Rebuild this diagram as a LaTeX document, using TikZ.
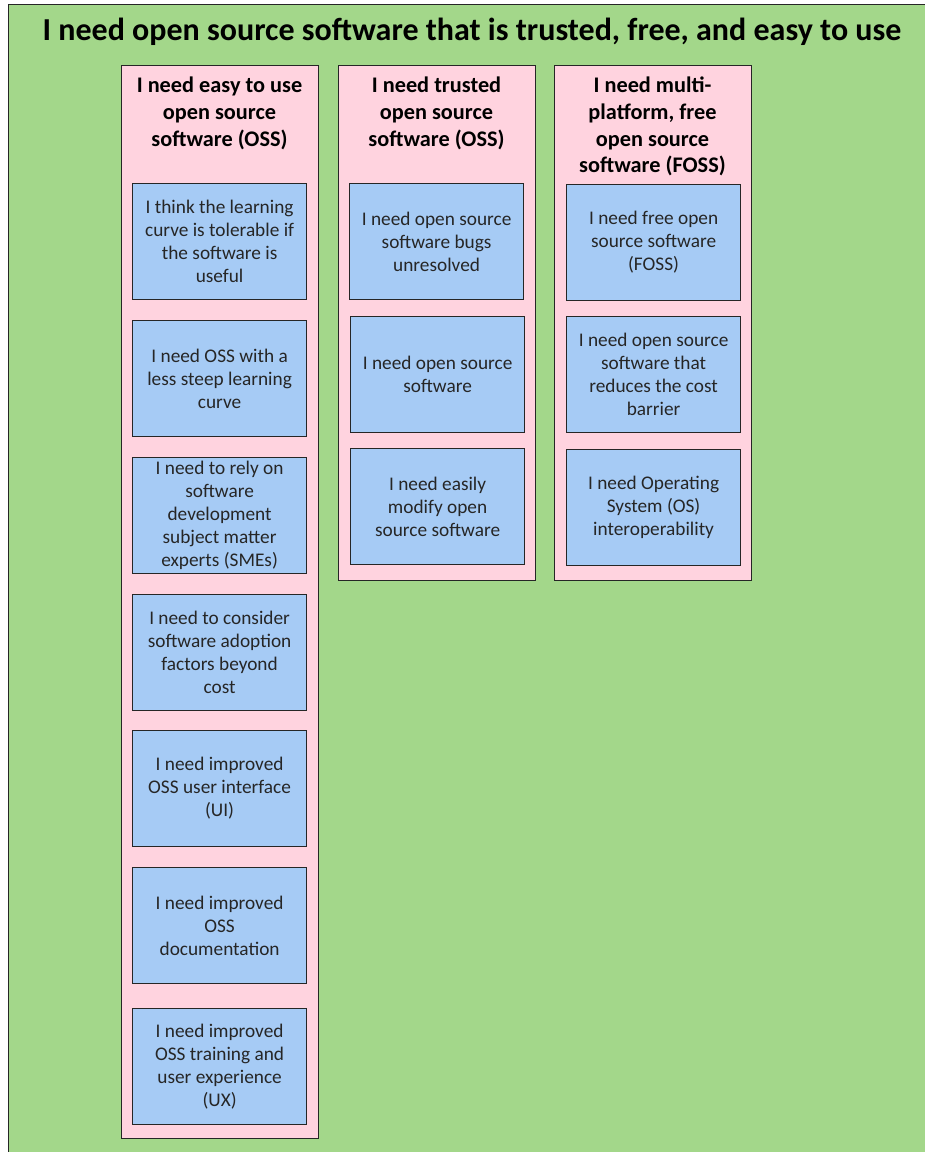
\documentclass[tikz,border=0pt]{standalone}
\usepackage{fontspec}
\setmainfont{Carlito}
\definecolor{bggreen}{RGB}{163,215,138}
\definecolor{colpink}{RGB}{255,211,223}
\definecolor{cardblue}{RGB}{166,203,245}
\definecolor{edge}{RGB}{38,38,38}
\tikzset{
  column/.style={draw=edge, line width=1.2pt, fill=colpink, anchor=north west, inner sep=0pt},
  colhead/.style={anchor=north, align=center, font=\fontsize{22.3}{26.7}\selectfont\bfseries, inner sep=0pt},
  card/.style={draw=edge, line width=1.2pt, fill=cardblue, anchor=north west, inner sep=0pt,
    minimum width=174pt, minimum height=116pt},
  cardtext/.style={align=center, font=\fontsize{19.3}{23}\selectfont, text=black!85, inner sep=0pt},
}
\newcommand{\card}[4]{% name, x, y, text
  \node[card] (#1) at (#2,#3) {};
  \node[cardtext] (#1t) at (#1.center) {#4};
}
\begin{document}
\begin{tikzpicture}[x=1pt,y=-1pt]
  \useasboundingbox (0,0) rectangle (925,1152);
  \clip (0,0) rectangle (925,1152);
  % background panel running off the right and bottom edges
  \node[draw=edge, line width=1.2pt, fill=bggreen, anchor=north west, inner sep=0pt,
        minimum width=940pt, minimum height=1170pt] (panel) at (8,4) {};
  \node[font=\fontsize{32}{38}\selectfont\bfseries, inner sep=0pt] (title) at (472,32)
    {I need open source software that is trusted, free, and easy to use};

  % column 1
  \node[column, minimum width=197pt, minimum height=1073pt] (c1) at (121,65) {};
  \node[colhead] (c1h) at (219.5,77) {I need easy to use\\open source\\software (OSS)};
  \card{a1}{132}{183}{I think the learning\\curve is tolerable if\\the software is\\useful}
  \card{a2}{132}{320}{I need OSS with a\\less steep learning\\curve}
  \card{a3}{132}{457}{I need to rely on\\software\\development\\subject matter\\experts (SMEs)}
  \card{a4}{132}{594}{I need to consider\\software adoption\\factors beyond\\cost}
  \card{a5}{132}{730}{I need improved\\OSS user interface\\(UI)}
  \card{a6}{132}{867}{I need improved\\OSS\\documentation}
  \card{a7}{132}{1008}{I need improved\\OSS training and\\user experience\\(UX)}

  % column 2
  \node[column, minimum width=197pt, minimum height=515pt] (c2) at (338,65) {};
  \node[colhead] (c2h) at (436.5,77) {I need trusted\\open source\\software (OSS)};
  \card{b1}{349}{183}{I need open source\\software bugs\\unresolved}
  \card{b2}{350}{316}{I need open source\\software}
  \card{b3}{350}{448}{I need easily\\modify open\\source software}

  % column 3
  \node[column, minimum width=197pt, minimum height=515pt] (c3) at (554,65) {};
  \node[colhead] (c3h) at (652.5,77) {I need multi-\\platform, free\\open source\\software (FOSS)};
  \card{d1}{566}{184}{I need free open\\source software\\(FOSS)}
  \card{d2}{566}{316}{I need open source\\software that\\reduces the cost\\barrier}
  \card{d3}{566}{449}{I need Operating\\System (OS)\\interoperability}
\end{tikzpicture}
\end{document}
